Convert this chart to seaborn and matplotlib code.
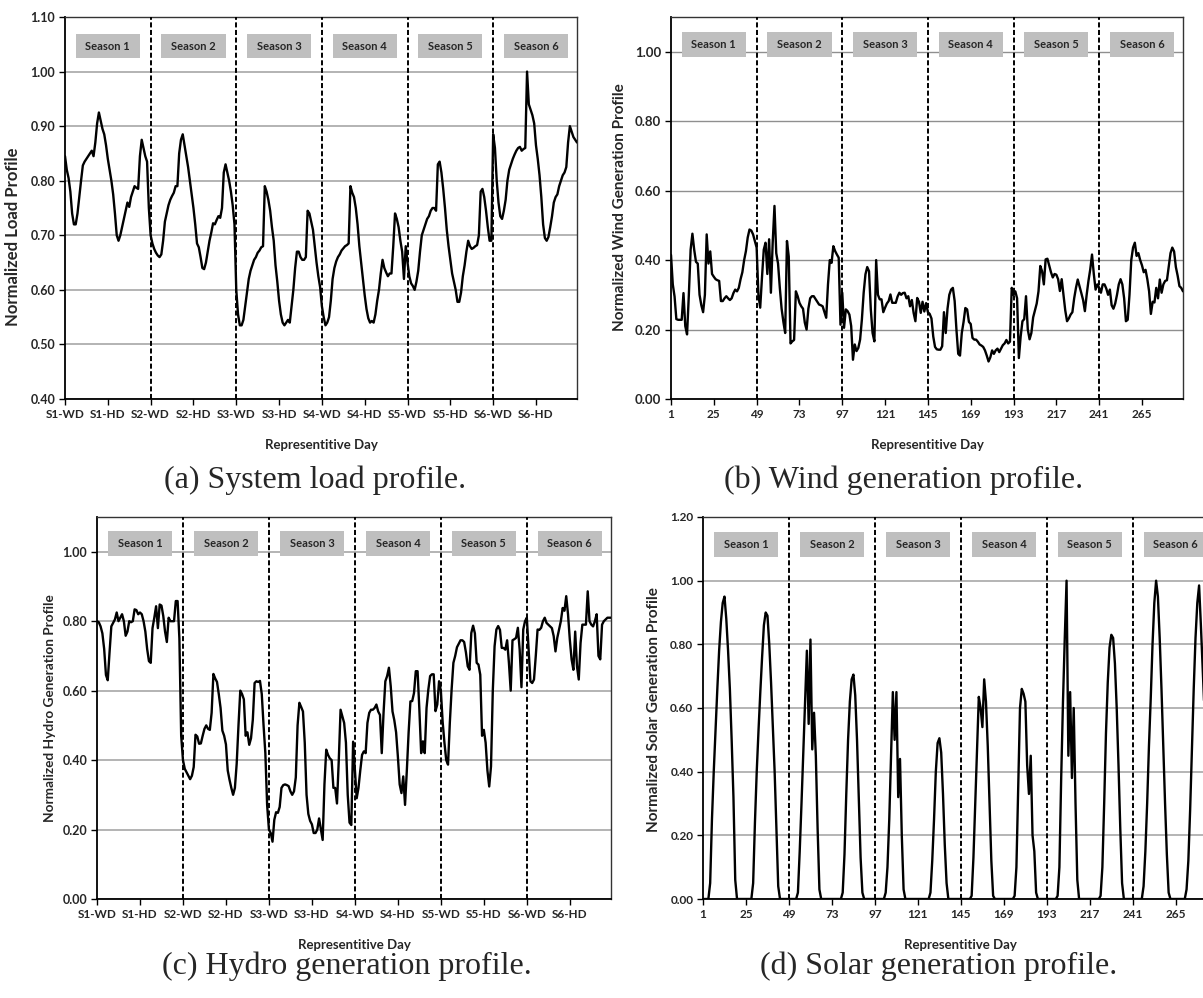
import numpy as np
import pandas as pd
import matplotlib
matplotlib.use('Agg')
import matplotlib.pyplot as plt
import seaborn as sns
from matplotlib.patches import Rectangle

sns.set_theme(style='white')
plt.rcParams['font.family'] = ['Lato', 'DejaVu Sans']

# hourly values, 6 seasons x (working day + holiday) x 24 h
load_s1 = [0.845, 0.82, 0.805, 0.78, 0.74, 0.72, 0.72, 0.74, 0.77, 0.80,
           0.828, 0.835, 0.84, 0.845, 0.85, 0.855, 0.845, 0.87, 0.905, 0.925,
           0.91, 0.895, 0.885, 0.865, 0.84, 0.82, 0.80, 0.775, 0.74, 0.70,
           0.69, 0.70, 0.715, 0.73, 0.745, 0.76, 0.752, 0.77, 0.78, 0.79,
           0.787, 0.785, 0.845, 0.875, 0.86, 0.845, 0.835, 0.75]
load_s2 = [0.70, 0.685, 0.675, 0.668, 0.663, 0.66, 0.665, 0.69, 0.725, 0.74,
           0.755, 0.765, 0.772, 0.778, 0.79, 0.79, 0.85, 0.875, 0.885, 0.865,
           0.845, 0.825, 0.80, 0.775, 0.75, 0.72, 0.685, 0.678, 0.66, 0.64,
           0.638, 0.65, 0.67, 0.69, 0.705, 0.722, 0.72, 0.728, 0.735, 0.732,
           0.75, 0.815, 0.83, 0.815, 0.80, 0.78, 0.755, 0.72]
load_s3 = [0.60, 0.555, 0.535, 0.535, 0.545, 0.57, 0.595, 0.62, 0.635, 0.645,
           0.655, 0.66, 0.668, 0.672, 0.678, 0.68, 0.79, 0.78, 0.765, 0.745,
           0.715, 0.69, 0.645, 0.615, 0.58, 0.555, 0.54, 0.535, 0.54, 0.545,
           0.54, 0.57, 0.60, 0.64, 0.67, 0.67, 0.66, 0.655, 0.655, 0.66,
           0.745, 0.74, 0.725, 0.71, 0.68, 0.65, 0.625, 0.605]
load_s4 = [0.57, 0.55, 0.535, 0.54, 0.55, 0.58, 0.62, 0.64, 0.652, 0.66,
           0.665, 0.672, 0.676, 0.68, 0.682, 0.685, 0.79, 0.778, 0.77, 0.75,
           0.72, 0.68, 0.65, 0.62, 0.59, 0.565, 0.548, 0.54, 0.543, 0.54,
           0.555, 0.58, 0.60, 0.63, 0.655, 0.64, 0.632, 0.625, 0.63, 0.63,
           0.68, 0.74, 0.73, 0.715, 0.69, 0.67, 0.62, 0.68]
load_s5 = [0.65, 0.625, 0.612, 0.607, 0.60, 0.615, 0.635, 0.67, 0.70, 0.71,
           0.72, 0.73, 0.735, 0.745, 0.75, 0.75, 0.745, 0.83, 0.835, 0.815,
           0.785, 0.75, 0.71, 0.68, 0.655, 0.63, 0.615, 0.60, 0.578, 0.578,
           0.595, 0.625, 0.645, 0.67, 0.69, 0.68, 0.675, 0.677, 0.68, 0.682,
           0.70, 0.78, 0.785, 0.77, 0.745, 0.715, 0.69, 0.69]
load_s6 = [0.885, 0.86, 0.80, 0.76, 0.735, 0.73, 0.745, 0.765, 0.80, 0.82,
           0.83, 0.84, 0.848, 0.855, 0.86, 0.862, 0.855, 0.858, 0.86, 1.00,
           0.94, 0.93, 0.92, 0.905, 0.865, 0.84, 0.81, 0.77, 0.72, 0.695,
           0.69, 0.697, 0.715, 0.735, 0.76, 0.77, 0.775, 0.79, 0.80, 0.81,
           0.815, 0.825, 0.87, 0.90, 0.89, 0.88, 0.875, 0.87]

wind_s1 = [0.415, 0.33, 0.295, 0.23, 0.228, 0.228, 0.228, 0.305, 0.21, 0.186,
           0.30, 0.43, 0.476, 0.43, 0.395, 0.39, 0.30, 0.27, 0.25, 0.30,
           0.474, 0.39, 0.425, 0.36, 0.352, 0.345, 0.342, 0.34, 0.282, 0.282,
           0.29, 0.296, 0.29, 0.285, 0.29, 0.305, 0.315, 0.31, 0.32, 0.345,
           0.365, 0.40, 0.426, 0.465, 0.488, 0.485, 0.474, 0.455]
wind_s2 = [0.436, 0.30, 0.263, 0.35, 0.43, 0.45, 0.36, 0.46, 0.306, 0.45,
           0.556, 0.42, 0.39, 0.32, 0.26, 0.222, 0.19, 0.455, 0.41, 0.16,
           0.166, 0.17, 0.31, 0.296, 0.277, 0.267, 0.26, 0.22, 0.20, 0.26,
           0.29, 0.296, 0.296, 0.288, 0.28, 0.272, 0.27, 0.267, 0.25, 0.234,
           0.33, 0.40, 0.392, 0.44, 0.426, 0.416, 0.407, 0.214]
wind_s3 = [0.306, 0.205, 0.258, 0.253, 0.243, 0.21, 0.113, 0.157, 0.138, 0.147,
           0.171, 0.229, 0.306, 0.359, 0.38, 0.368, 0.258, 0.19, 0.166, 0.40,
           0.30, 0.287, 0.287, 0.25, 0.263, 0.275, 0.282, 0.301, 0.277, 0.277,
           0.277, 0.295, 0.306, 0.30, 0.305, 0.306, 0.29, 0.296, 0.267, 0.285,
           0.248, 0.224, 0.291, 0.28, 0.248, 0.28, 0.252, 0.276]
wind_s4 = [0.25, 0.245, 0.232, 0.18, 0.15, 0.143, 0.142, 0.142, 0.152, 0.25,
           0.19, 0.26, 0.30, 0.315, 0.32, 0.282, 0.20, 0.13, 0.125, 0.19,
           0.222, 0.262, 0.258, 0.222, 0.216, 0.176, 0.171, 0.171, 0.165, 0.157,
           0.154, 0.15, 0.14, 0.125, 0.108, 0.12, 0.14, 0.13, 0.14, 0.145,
           0.135, 0.145, 0.155, 0.16, 0.17, 0.16, 0.165, 0.32]
wind_s5 = [0.30, 0.31, 0.29, 0.118, 0.18, 0.224, 0.23, 0.296, 0.20, 0.172,
           0.19, 0.235, 0.255, 0.275, 0.31, 0.383, 0.368, 0.33, 0.402, 0.404,
           0.385, 0.365, 0.35, 0.36, 0.358, 0.345, 0.311, 0.345, 0.30, 0.255,
           0.224, 0.232, 0.243, 0.25, 0.29, 0.32, 0.344, 0.325, 0.305, 0.285,
           0.253, 0.30, 0.34, 0.373, 0.416, 0.36, 0.315, 0.33]
wind_s6 = [0.32, 0.306, 0.33, 0.33, 0.318, 0.30, 0.315, 0.27, 0.26, 0.275,
           0.30, 0.33, 0.345, 0.33, 0.29, 0.224, 0.228, 0.30, 0.40, 0.436,
           0.45, 0.412, 0.42, 0.40, 0.385, 0.365, 0.372, 0.345, 0.31, 0.245,
           0.28, 0.278, 0.32, 0.29, 0.344, 0.306, 0.33, 0.34, 0.342, 0.38,
           0.42, 0.436, 0.425, 0.38, 0.355, 0.325, 0.32, 0.31]

hydro_s1 = [0.80, 0.797, 0.785, 0.765, 0.72, 0.645, 0.63, 0.71, 0.785, 0.795,
            0.805, 0.825, 0.80, 0.81, 0.82, 0.80, 0.758, 0.77, 0.80, 0.797,
            0.80, 0.834, 0.832, 0.82, 0.825, 0.82, 0.80, 0.77, 0.72, 0.685,
            0.68, 0.78, 0.81, 0.843, 0.78, 0.848, 0.845, 0.815, 0.77, 0.74,
            0.81, 0.80, 0.80, 0.80, 0.858, 0.858, 0.75, 0.47]
hydro_s2 = [0.40, 0.375, 0.365, 0.355, 0.345, 0.355, 0.38, 0.473, 0.468, 0.447,
            0.448, 0.47, 0.49, 0.50, 0.49, 0.487, 0.536, 0.648, 0.635, 0.625,
            0.59, 0.55, 0.485, 0.47, 0.445, 0.37, 0.343, 0.32, 0.30, 0.32,
            0.39, 0.50, 0.60, 0.59, 0.575, 0.47, 0.48, 0.444, 0.463, 0.516,
            0.622, 0.627, 0.625, 0.628, 0.59, 0.50, 0.42, 0.27]
hydro_s3 = [0.20, 0.19, 0.165, 0.228, 0.25, 0.248, 0.265, 0.32, 0.328, 0.33,
            0.328, 0.325, 0.31, 0.30, 0.31, 0.35, 0.50, 0.565, 0.553, 0.54,
            0.45, 0.30, 0.245, 0.225, 0.215, 0.19, 0.19, 0.20, 0.232, 0.20,
            0.17, 0.33, 0.43, 0.415, 0.405, 0.40, 0.32, 0.32, 0.275, 0.40,
            0.545, 0.526, 0.507, 0.45, 0.30, 0.22, 0.213, 0.453]
hydro_s4 = [0.37, 0.29, 0.32, 0.37, 0.415, 0.425, 0.42, 0.507, 0.536, 0.545,
            0.545, 0.55, 0.56, 0.54, 0.53, 0.42, 0.536, 0.627, 0.642, 0.666,
            0.613, 0.54, 0.515, 0.48, 0.41, 0.33, 0.305, 0.353, 0.271, 0.37,
            0.48, 0.569, 0.57, 0.593, 0.656, 0.656, 0.545, 0.42, 0.454, 0.42,
            0.55, 0.603, 0.642, 0.647, 0.647, 0.541, 0.56, 0.627]
hydro_s5 = [0.60, 0.51, 0.45, 0.40, 0.387, 0.507, 0.603, 0.68, 0.70, 0.725,
            0.735, 0.745, 0.745, 0.74, 0.71, 0.67, 0.66, 0.766, 0.787, 0.765,
            0.68, 0.675, 0.646, 0.47, 0.487, 0.45, 0.37, 0.324, 0.382, 0.60,
            0.728, 0.776, 0.786, 0.775, 0.723, 0.723, 0.718, 0.745, 0.68, 0.60,
            0.745, 0.748, 0.752, 0.781, 0.718, 0.61, 0.776, 0.80]
hydro_s6 = [0.81, 0.72, 0.627, 0.622, 0.632, 0.70, 0.776, 0.775, 0.781, 0.80,
            0.81, 0.795, 0.79, 0.785, 0.78, 0.757, 0.713, 0.752, 0.776, 0.80,
            0.838, 0.83, 0.872, 0.82, 0.747, 0.69, 0.66, 0.77, 0.67, 0.632,
            0.737, 0.79, 0.79, 0.79, 0.886, 0.80, 0.79, 0.785, 0.80, 0.82,
            0.70, 0.69, 0.79, 0.80, 0.805, 0.81, 0.81, 0.81]

solar_s1 = [0, 0, 0, 0, 0.05, 0.25, 0.40, 0.53, 0.66, 0.78, 0.87, 0.93,
            0.95, 0.88, 0.78, 0.66, 0.50, 0.32, 0.06, 0, 0, 0, 0, 0,
            0, 0, 0, 0, 0.05, 0.24, 0.40, 0.53, 0.65, 0.76, 0.86, 0.90,
            0.89, 0.80, 0.68, 0.54, 0.40, 0.22, 0.04, 0, 0, 0, 0, 0]
solar_s2 = [0, 0, 0, 0, 0, 0.02, 0.15, 0.30, 0.46, 0.62, 0.78, 0.55,
            0.815, 0.47, 0.585, 0.45, 0.22, 0.03, 0, 0, 0, 0, 0, 0,
            0, 0, 0, 0, 0, 0, 0.02, 0.14, 0.33, 0.50, 0.62, 0.69,
            0.705, 0.64, 0.50, 0.32, 0.13, 0.02, 0, 0, 0, 0, 0, 0]
solar_s3 = [0, 0, 0, 0, 0, 0, 0.02, 0.10, 0.25, 0.45, 0.65, 0.50,
            0.65, 0.32, 0.44, 0.20, 0.03, 0, 0, 0, 0, 0, 0, 0,
            0, 0, 0, 0, 0, 0, 0, 0.02, 0.12, 0.25, 0.40, 0.49,
            0.505, 0.46, 0.33, 0.17, 0.05, 0, 0, 0, 0, 0, 0, 0]
solar_s4 = [0, 0, 0, 0, 0, 0, 0.01, 0.13, 0.30, 0.47, 0.635, 0.60,
            0.54, 0.69, 0.62, 0.48, 0.30, 0.12, 0.01, 0, 0, 0, 0, 0,
            0, 0, 0, 0, 0, 0, 0.01, 0.10, 0.35, 0.60, 0.66, 0.645,
            0.62, 0.42, 0.33, 0.45, 0.20, 0.15, 0.02, 0, 0, 0, 0, 0]
solar_s5 = [0, 0, 0, 0, 0, 0, 0.01, 0.10, 0.38, 0.62, 0.82, 1.00,
            0.45, 0.65, 0.38, 0.60, 0.30, 0.06, 0, 0, 0, 0, 0, 0,
            0, 0, 0, 0, 0, 0, 0.01, 0.10, 0.30, 0.52, 0.68, 0.79,
            0.83, 0.82, 0.74, 0.60, 0.42, 0.22, 0.05, 0, 0, 0, 0, 0]
solar_s6 = [0, 0, 0, 0, 0, 0, 0.04, 0.15, 0.30, 0.48, 0.63, 0.80,
            0.93, 1.00, 0.95, 0.82, 0.66, 0.48, 0.30, 0.14, 0.02, 0, 0, 0,
            0, 0, 0, 0, 0, 0, 0.03, 0.12, 0.28, 0.47, 0.66, 0.82,
            0.93, 0.985, 0.86, 0.72, 0.59, 0.45, 0.28, 0.12, 0.02, 0, 0, 0]

seasons = ['Season 1', 'Season 2', 'Season 3', 'Season 4', 'Season 5', 'Season 6']
day_labels = ['S1-WD', 'S1-HD', 'S2-WD', 'S2-HD', 'S3-WD', 'S3-HD',
              'S4-WD', 'S4-HD', 'S5-WD', 'S5-HD', 'S6-WD', 'S6-HD']
hour_labels = ['1', '25', '49', '73', '97', '121', '145', '169', '193', '217', '241', '265']

load = load_s1 + load_s2 + load_s3 + load_s4 + load_s5 + load_s6
wind = wind_s1 + wind_s2 + wind_s3 + wind_s4 + wind_s5 + wind_s6
hydro = hydro_s1 + hydro_s2 + hydro_s3 + hydro_s4 + hydro_s5 + hydro_s6
solar = solar_s1 + solar_s2 + solar_s3 + solar_s4 + solar_s5 + solar_s6

df = pd.DataFrame({'hour': np.arange(len(load)), 'load': load, 'wind': wind,
                   'hydro': hydro, 'solar': solar})

W, H = 1203, 998
fig = plt.figure(figsize=(W / 100, H / 100), dpi=100)


def panel(rect, col, ylim, yticks, xlabels, ylabel, ylab_xy, ylab_size,
          ytick_size, box_y, box_h, grid_color, grid_lw):
    ax = fig.add_axes([rect[0] / W, 1 - rect[3] / H, (rect[1] - rect[0]) / W,
                       (rect[3] - rect[2]) / H])
    ax.set_axisbelow(True)
    ax.yaxis.grid(True, color=grid_color, linewidth=grid_lw)
    sns.lineplot(data=df, x='hour', y=col, ax=ax, color='black', linewidth=1.7,
                 estimator=None, zorder=3)
    ax.set_xlim(0, 287)
    ax.set_ylim(*ylim)
    ax.set_yticks(yticks)
    ax.set_yticklabels([f'{t:.2f}' for t in yticks], fontsize=ytick_size,
                       fontweight='bold')
    ax.set_xticks(range(0, 288, 24))
    ax.set_xticklabels(xlabels, fontsize=8.5, fontweight='bold')
    ax.tick_params(axis='both', direction='out', length=4, width=1,
                   color='black', pad=3, bottom=True, left=True)
    for s in ['left', 'bottom']:
        ax.spines[s].set_color('black')
        ax.spines[s].set_linewidth(1.3)
    for s in ['top', 'right']:
        ax.spines[s].set_color('#333333')
        ax.spines[s].set_linewidth(1.0)
    for x in range(48, 288, 48):
        ax.axvline(x, color='black', linestyle=(0, (2.6, 1.3)), linewidth=1.4,
                   zorder=4)
    for k, name in enumerate(seasons):
        cx = 48 * k + 24
        ax.add_patch(Rectangle((cx - 18, box_y - box_h / 2), 36, box_h,
                               facecolor='#bfbfbf', edgecolor='none', zorder=5))
        ax.text(cx, box_y, name, ha='center', va='center', fontsize=8,
                fontweight='bold', zorder=6)
    ax.set_xlabel('Representitive Day', fontsize=9.5, fontweight='bold')
    ax.xaxis.set_label_coords(0.5, -0.105)
    ax.set_ylabel(ylabel, fontsize=ylab_size, fontweight='bold')
    ax.yaxis.set_label_coords(*ylab_xy)
    return ax


panel((65, 577, 17, 399), 'load', (0.4, 1.1), np.arange(0.4, 1.101, 0.1),
      day_labels, 'Normalized Load Profile', (-0.086, 0.424), 12, 9,
      1.0465, 0.044, '#b3b3b3', 1.4)
panel((671, 1183, 17, 399), 'wind', (0, 1.1), np.arange(0, 1.001, 0.2),
      hour_labels, 'Normalized Wind Generation Profile', (-0.086, 0.503), 11,
      9.5, 1.02, 0.072, '#8f8f8f', 1.0)
panel((97, 611, 517, 899), 'hydro', (0, 1.1), np.arange(0, 1.001, 0.2),
      day_labels, 'Normalized Hydro Generation Profile', (-0.08, 0.5), 9.8,
      9, 1.023, 0.072, '#b3b3b3', 1.4)
panel((703, 1217, 517, 899), 'solar', (0, 1.2), np.arange(0, 1.201, 0.2),
      hour_labels, 'Normalized Solar Generation Profile', (-0.082, 0.497), 11,
      8.5, 1.113, 0.079, '#a0a0a0', 1.1)

captions = ['(a) System load profile.', '(b) Wind generation profile.',
            '(c) Hydro generation profile.', '(d) Solar generation profile.']
cap_xy = [(315, 480), (904, 480), (347, 966), (939, 966)]
for txt, (cx, cy) in zip(captions, cap_xy):
    fig.text(cx / W, 1 - cy / H, txt, ha='center', va='center',
             family='Liberation Serif', fontsize=23)

fig.savefig('out.png', dpi=100)
